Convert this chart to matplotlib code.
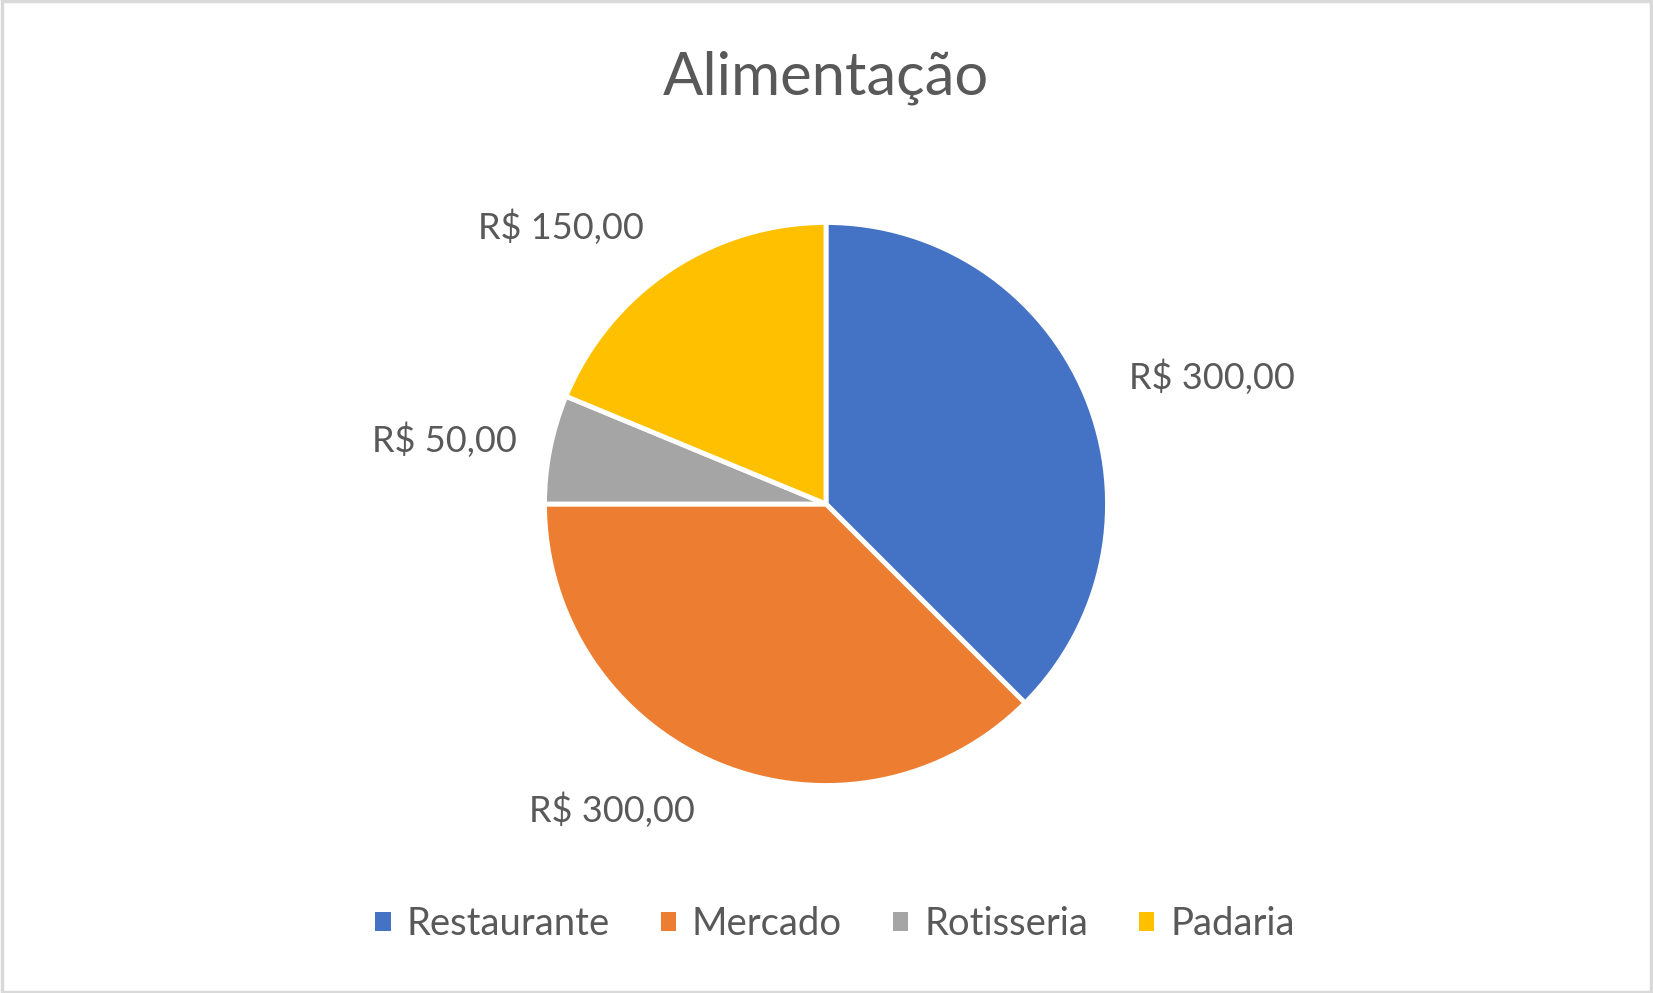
import matplotlib
matplotlib.use("Agg")
import matplotlib.pyplot as plt
from matplotlib.patches import Rectangle, Patch
import numpy as np

plt.rcParams['font.family'] = ['Lato', 'DejaVu Sans']

categories = ["Restaurante", "Mercado", "Rotisseria", "Padaria"]
values = [300, 300, 50, 150]
value_labels = ["R$ 300,00", "R$ 300,00", "R$ 50,00", "R$ 150,00"]
title = "Alimentação"

colors = ["#4472C4", "#ED7D31", "#A5A5A5", "#FFC000"]
text_color = "#595959"
# label placement (angle in degrees, distance in radii) per slice
label_pos = [(18.2, 1.443), (235.0, 1.326), (170.5, 1.376), (133.7, 1.362)]

W, H = 1653, 993
fig = plt.figure(figsize=(W / 100, H / 100), dpi=100)
fig.patch.set_facecolor("white")

cx, cy, r = 826, 504, 281.5
ax = fig.add_axes([(cx - r) / W, (H - cy - r) / H, 2 * r / W, 2 * r / H])
wedges, _ = ax.pie(values, colors=colors, startangle=90, counterclock=False,
                   radius=1, wedgeprops=dict(edgecolor="white", linewidth=3.5))
ax.set_xlim(-1, 1)
ax.set_ylim(-1, 1)
ax.set_aspect("equal")
ax.axis("off")

for lbl, (ang, dist) in zip(value_labels, label_pos):
    a = np.deg2rad(ang)
    ax.text(dist * np.cos(a), dist * np.sin(a), lbl, ha="center", va="center",
            fontsize=26, color=text_color, clip_on=False)

fig.text(cx / W, 1 - 78 / H, title, ha="center", va="center",
         fontsize=43, color=text_color)

handles = [Patch(facecolor=c, edgecolor="none") for c in colors]
leg = fig.legend(handles, categories, loc="center", bbox_to_anchor=(835 / W, 1 - 924 / H),
                 ncol=4, frameon=False, fontsize=27.5, handlelength=0.4, handleheight=0.4,
                 handletextpad=0.42, columnspacing=1.33, labelcolor=text_color)

fig.add_artist(Rectangle((0.001, 0.0015), 0.998, 0.997, transform=fig.transFigure,
                         fill=False, edgecolor="#D9D9D9", linewidth=2.5))

fig.savefig("out.png", dpi=100, facecolor="white")
